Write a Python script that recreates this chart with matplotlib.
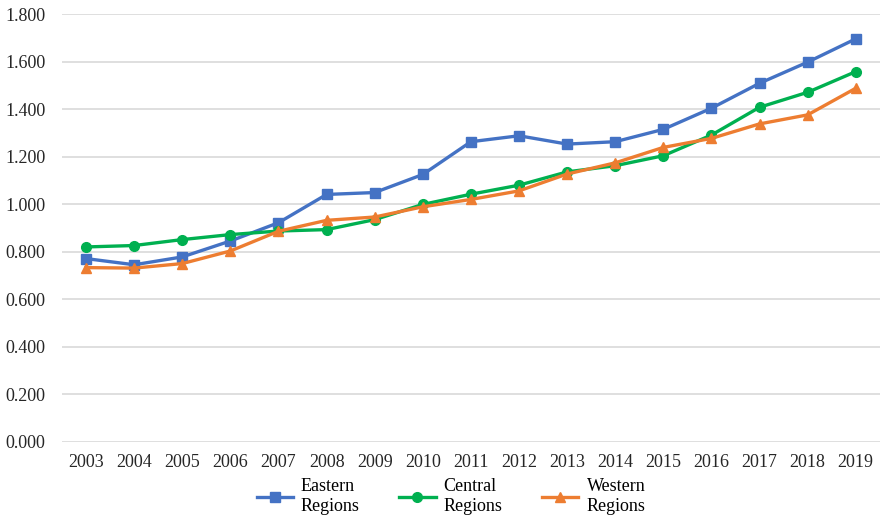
import matplotlib.pyplot as plt
from matplotlib.ticker import FuncFormatter

years = list(range(2003, 2020))

eastern = [0.771, 0.745, 0.778, 0.845, 0.922, 1.041, 1.049, 1.125, 1.263,
           1.288, 1.253, 1.263, 1.315, 1.404, 1.509, 1.598, 1.696]
central = [0.820, 0.826, 0.851, 0.872, 0.887, 0.893, 0.935, 0.999, 1.042,
           1.080, 1.136, 1.162, 1.204, 1.291, 1.408, 1.471, 1.558]
western = [0.733, 0.731, 0.750, 0.803, 0.886, 0.932, 0.946, 0.989, 1.020,
           1.056, 1.127, 1.174, 1.239, 1.277, 1.338, 1.376, 1.488]

labels = ['Eastern\nRegions', 'Central\nRegions', 'Western\nRegions']

plt.rcParams['font.family'] = ['Liberation Serif', 'DejaVu Serif']

fig = plt.figure(figsize=(8.86, 5.24), dpi=100)
ax = fig.add_axes([0.070, 0.157, 0.923, 0.816])

ax.plot(years, eastern, color='#4472C4', lw=2.4, marker='s', ms=6.5, label=labels[0])
ax.plot(years, central, color='#00B050', lw=2.4, marker='o', ms=7, label=labels[1])
ax.plot(years, western, color='#ED7D31', lw=2.4, marker='^', ms=7, label=labels[2])

ax.set_xlim(2002.5, 2019.5)
ax.set_ylim(0, 1.8)
ax.set_xticks(years)
ax.set_yticks([i * 0.2 for i in range(10)])
ax.yaxis.set_major_formatter(FuncFormatter(lambda v, p: f'{v:.3f}'))
ax.grid(axis='y', color='#d9d9d9', lw=1.2)
ax.set_axisbelow(True)
for s in ax.spines.values():
    s.set_visible(False)
ax.tick_params(length=0, labelsize=13, colors='#262626')
ax.tick_params(axis='y', pad=12)
ax.tick_params(axis='x', pad=9)

fig.legend(loc='lower center', bbox_to_anchor=(0.509, -0.014), ncol=3, frameon=False,
           fontsize=13, handlelength=2.0, columnspacing=2.2, handletextpad=0.45,
           labelspacing=0.1)

fig.savefig('out.png', dpi=100)
